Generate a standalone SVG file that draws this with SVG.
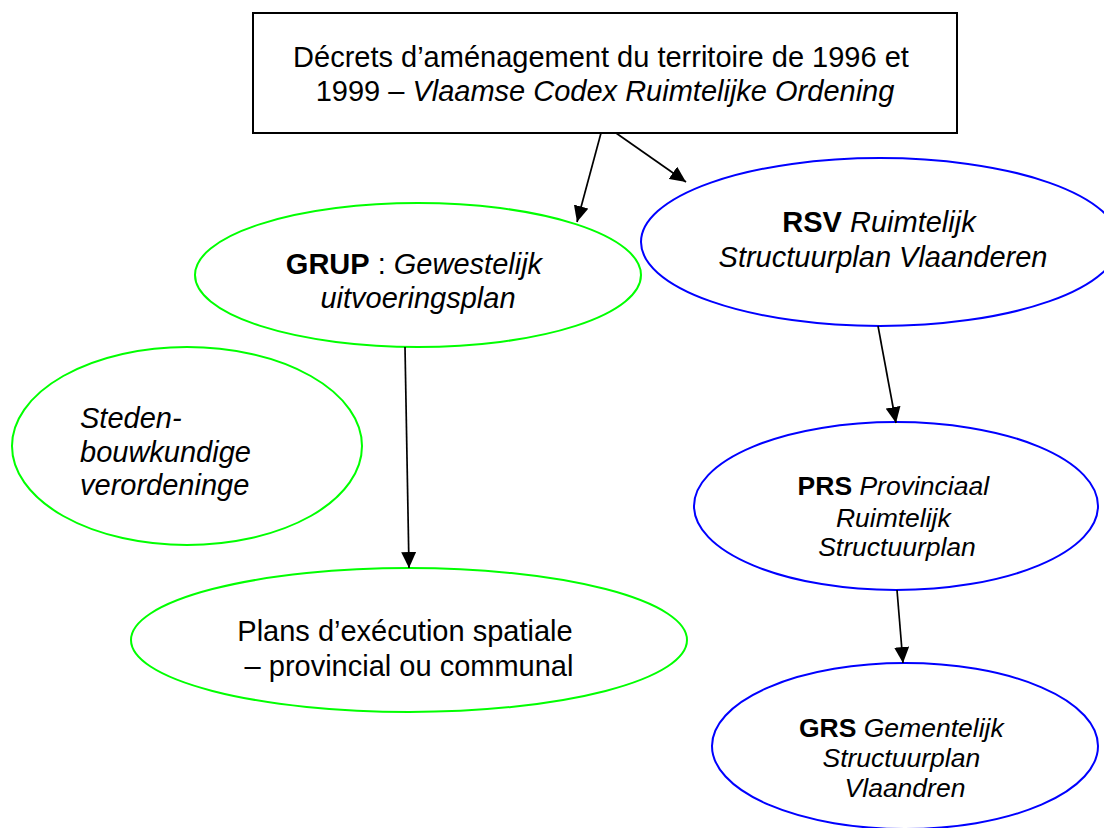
<svg xmlns="http://www.w3.org/2000/svg" width="1104" height="828" viewBox="0 0 1104 828">
  <style>
    .t { font-family: "Liberation Sans", Arial, sans-serif; fill: #000; }
    .box { fill: #fff; stroke: #000; stroke-width: 2; }
    .green { fill: #fff; stroke: #00ff00; stroke-width: 2; }
    .blue { fill: #fff; stroke: #0000ff; stroke-width: 2; }
    .conn { stroke: #000; stroke-width: 1.7; fill: none; marker-end: url(#arrow); }
    .b { font-weight: bold; }
    .i { font-style: italic; }
  </style>
  <defs>
    <marker id="arrow" viewBox="0 0 16 15" refX="16" refY="7.5" markerWidth="16" markerHeight="15" markerUnits="userSpaceOnUse" orient="auto">
      <path d="M0,0 L16,7.5 L0,15 Z" fill="#000"/>
    </marker>
  </defs>
  <rect width="1104" height="828" fill="#fff"/>

  <g id="decrets">
    <rect class="box" x="253" y="13" width="704" height="120"/>
    <text class="t" font-size="29" text-anchor="middle">
      <tspan x="605" y="67">Décrets d’aménagement du territoire de 1996 et</tspan>
      <tspan x="605" y="101">1999 – <tspan class="i">Vlaamse Codex Ruimtelijke Ordening</tspan></tspan>
    </text>
  </g>

  <g id="grup">
    <ellipse class="green" cx="418" cy="275" rx="223" ry="72"/>
    <text class="t" font-size="29" text-anchor="middle">
      <tspan x="418" y="274"><tspan class="b">GRUP</tspan> : <tspan class="i">Gewestelijk</tspan></tspan>
      <tspan x="418" y="308" class="i">uitvoeringsplan</tspan>
    </text>
  </g>

  <g id="rsv">
    <ellipse class="blue" cx="880" cy="242" rx="239" ry="84"/>
    <text class="t" font-size="29" text-anchor="middle">
      <tspan x="883" y="232"><tspan class="b">RSV</tspan> <tspan class="i">Ruimtelijk</tspan></tspan>
      <tspan x="883" y="267" class="i">Structuurplan Vlaanderen</tspan>
    </text>
  </g>

  <g id="steden">
    <ellipse class="green" cx="187" cy="446" rx="175" ry="99"/>
    <text class="t i" font-size="29">
      <tspan x="80" y="428">Steden-</tspan>
      <tspan x="80" y="462">bouwkundige</tspan>
      <tspan x="80" y="495">verordeninge</tspan>
    </text>
  </g>

  <g id="prs">
    <ellipse class="blue" cx="896" cy="506" rx="202" ry="84"/>
    <text class="t" font-size="26.5" text-anchor="middle">
      <tspan x="897" y="495"><tspan class="b">PRS</tspan> <tspan class="i">Provinciaal</tspan></tspan>
      <tspan x="897" y="527" class="i">Ruimtelijk</tspan>
      <tspan x="897" y="556" class="i">Structuurplan</tspan>
    </text>
  </g>

  <g id="plans">
    <ellipse class="green" cx="409" cy="640" rx="278" ry="72"/>
    <text class="t" font-size="29" text-anchor="middle">
      <tspan x="409" y="641">Plans d’exécution spatiale</tspan>
      <tspan x="409" y="676">– provincial ou communal</tspan>
    </text>
  </g>

  <g id="grs">
    <ellipse class="blue" cx="905" cy="746" rx="193" ry="83"/>
    <text class="t" font-size="26.5" text-anchor="middle">
      <tspan x="905" y="737"><tspan class="b">GRS</tspan> <tspan class="i">Gementelijk</tspan></tspan>
      <tspan x="905" y="767" class="i">Structuurplan</tspan>
      <tspan x="905" y="797" class="i">Vlaandren</tspan>
    </text>
  </g>

  <g id="connectors">
    <line class="conn" x1="601" y1="133" x2="577" y2="222"/>
    <line class="conn" x1="616" y1="133" x2="686" y2="182"/>
    <line class="conn" x1="405" y1="347" x2="409" y2="568"/>
    <line class="conn" x1="878" y1="326" x2="896" y2="423"/>
    <line class="conn" x1="897" y1="590" x2="903" y2="663"/>
  </g>
</svg>
